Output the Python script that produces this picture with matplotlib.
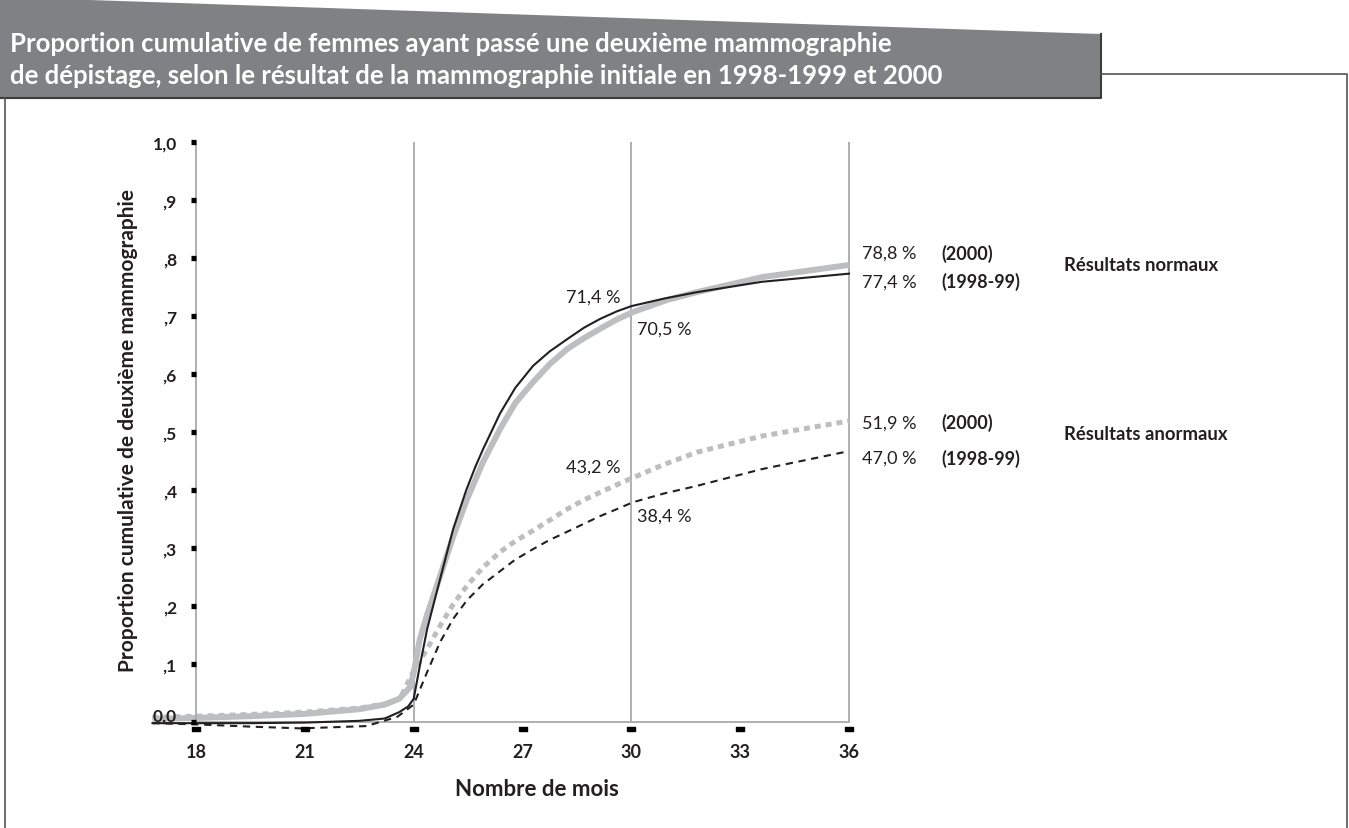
import numpy as np
import matplotlib
matplotlib.use('Agg')
import matplotlib.pyplot as plt
import matplotlib.transforms as mtransforms
from matplotlib.patches import Polygon
from matplotlib.lines import Line2D

# --- data (months, cumulative proportion) ---
norm_9899_x = [16.8, 18, 19.5, 21, 22.5, 23.2, 23.6, 23.85, 24.0, 24.17, 24.37, 24.73,
               25.09, 25.45, 25.7, 25.91, 26.38, 26.8, 27.29, 27.75, 28.23, 28.7, 29.14, 29.6,
               30.0, 30.9, 31.8, 33.6, 36.0]
norm_9899_y = [-0.002, -0.002, -0.002, -0.001, 0.002, 0.006, 0.017, 0.027, 0.040, 0.097, 0.160, 0.247,
               0.333, 0.400, 0.440, 0.470, 0.532, 0.576, 0.614, 0.639, 0.660, 0.680, 0.695, 0.708,
               0.717, 0.730, 0.741, 0.759, 0.773]

norm_2000_x = [16.8, 18, 19.5, 21, 22.5, 23.2, 23.6, 23.9, 24.0, 24.17, 24.37, 24.73,
               25.09, 25.47, 25.91, 26.38, 26.8, 27.29, 27.75, 28.23, 28.7, 29.14, 29.6, 30.05,
               31.0, 31.8, 33.6, 36.0]
norm_2000_y = [0.005, 0.007, 0.010, 0.014, 0.022, 0.030, 0.040, 0.060, 0.085, 0.143, 0.185, 0.252,
               0.320, 0.384, 0.448, 0.505, 0.550, 0.586, 0.617, 0.643, 0.662, 0.678, 0.694, 0.707,
               0.728, 0.741, 0.767, 0.788]

anor_2000_x = [16.8, 18, 19.5, 21, 22.5, 23.2, 23.62, 23.98, 24.37, 24.73, 25.09, 25.47,
               25.9, 26.38, 26.8, 27.29, 27.75, 28.23, 28.7, 29.14, 29.6, 30.0, 30.9, 31.8, 33.6, 36.0]
anor_2000_y = [0.008, 0.010, 0.013, 0.017, 0.024, 0.031, 0.040, 0.086, 0.126, 0.166, 0.203, 0.235,
               0.266, 0.293, 0.312, 0.330, 0.348, 0.367, 0.383, 0.396, 0.409, 0.420, 0.444, 0.465, 0.493, 0.519]

anor_9899_x = [16.8, 18, 19.5, 20.9, 22.7, 23.55, 24.0, 24.37, 24.73, 25.09, 25.47,
               25.9, 26.38, 26.8, 27.29, 27.75, 28.23, 28.7, 29.14, 29.6, 30.05, 30.9, 31.8, 33.6, 36.0]
anor_9899_y = [-0.002, -0.004, -0.008, -0.011, -0.007, 0.009, 0.030, 0.086, 0.138, 0.178, 0.210,
               0.237, 0.260, 0.280, 0.298, 0.314, 0.328, 0.342, 0.355, 0.367, 0.379, 0.394, 0.407, 0.436, 0.467]

x_ticks = [18, 21, 24, 27, 30, 33, 36]
y_ticks = [0.0, 0.1, 0.2, 0.3, 0.4, 0.5, 0.6, 0.7, 0.8, 0.9, 1.0]
y_ticklabels = ['0,0', ',1', ',2', ',3', ',4', ',5', ',6', ',7', ',8', ',9', '1,0']
grid_months = [24, 30, 36]

title_lines = ['Proportion cumulative de femmes ayant passé une deuxième mammographie',
               'de dépistage, selon le résultat de la mammographie initiale en 1998-1999 et 2000']

W, H = 1349, 829
plt.rcParams['font.family'] = ['Lato', 'DejaVu Sans']
TXT = '#231f20'
GREY = '#bcbec0'
AXC = '#a7a9ac'


def fx(px):
    return px / W


def fy(py):
    return 1 - py / H


fig = plt.figure(figsize=(W / 100, H / 100), dpi=100)

# header band and frame
band = Polygon([(fx(0), fy(0)), (fx(60), fy(0)), (fx(1100), fy(35)), (fx(1100), fy(98)), (fx(0), fy(98))],
               closed=True, transform=fig.transFigure, facecolor='#808184', edgecolor='none')
fig.add_artist(band)
fig.add_artist(Line2D([fx(0), fx(1101), fx(1101)], [fy(99), fy(99), fy(35)],
                      transform=fig.transFigure, color='#3c3c3c', lw=1.5))
fig.add_artist(Line2D([fx(5), fx(5)], [fy(99), fy(829)], transform=fig.transFigure, color='#555555', lw=1.2))
fig.add_artist(Line2D([fx(1101), fx(1347), fx(1347)], [fy(75), fy(75), fy(829)],
                      transform=fig.transFigure, color='#555555', lw=1.2))
fig.text(fx(10), fy(44), title_lines[0], color='white', fontsize=18.5, fontweight='bold', va='center')
fig.text(fx(10), fy(76), title_lines[1], color='white', fontsize=18.5, fontweight='bold', va='center')

# axes: x 16.75..36.1 -> px 150.7..852.6 ; y -0.03..1.005 -> px 740.4..140.1
ax = fig.add_axes([150.7 / W, (H - 740.4) / H, (852.6 - 150.7) / W, (740.4 - 140.1) / H])
ax.set_xlim(16.75, 36.1)
ax.set_ylim(-0.03, 1.005)
ax.patch.set_alpha(0)

for s in ['top', 'right']:
    ax.spines[s].set_visible(False)
ax.spines['left'].set_position(('data', 18))
ax.spines['left'].set_bounds(0, 1)
ax.spines['bottom'].set_position(('data', 0))
ax.spines['bottom'].set_bounds(18, 36)
for s in ['left', 'bottom']:
    ax.spines[s].set_color(AXC)
    ax.spines[s].set_linewidth(1.3)

ax.vlines(grid_months, 0, 1, color=AXC, lw=1.3, zorder=1)

ax.set_yticks(y_ticks)
ax.set_yticklabels(y_ticklabels)
ax.tick_params(axis='y', direction='out', length=3.8, width=3.8, color='black', pad=10,
               labelsize=12.5, labelcolor=TXT)
ax.set_xticks(x_ticks)
ax.set_xticklabels([str(t) for t in x_ticks])
ax.tick_params(axis='x', length=0, pad=15, labelsize=13, labelcolor=TXT)
for lab in ax.get_xticklabels() + ax.get_yticklabels():
    lab.set_fontweight('bold')
ax.yaxis.set_zorder(6)

# "0,0" sits a little higher in the original, on top of the curves
zero_lab = ax.yaxis.get_major_ticks()[0].label1
zero_lab.set_transform(zero_lab.get_transform() +
                       mtransforms.ScaledTranslation(0, 6 / 72, fig.dpi_scale_trans))

rect = [(-1, -0.5), (1, -0.5), (1, 0.5), (-1, 0.5), (-1, -0.5)]
ax.plot(x_ticks, [-0.012] * len(x_ticks), ls='none', marker=rect, markersize=6,
        color='black', clip_on=False, zorder=5)

# curves
ax.plot(norm_2000_x, norm_2000_y, color=GREY, lw=4.3, solid_capstyle='butt', zorder=2)
ax.plot(anor_2000_x, anor_2000_y, color=GREY, lw=3.6, ls=(0, (1.2, 1.0)), zorder=2)
ax.plot(norm_9899_x, norm_9899_y, color=TXT, lw=1.5, zorder=3)
ax.plot(anor_9899_x, anor_9899_y, color=TXT, lw=1.5, ls=(0, (3.5, 2.7)), zorder=3)

# value labels
vals = [('78,8 %', 36.37, 0.809, 'left'), ('77,4 %', 36.37, 0.760, 'left'),
        ('51,9 %', 36.37, 0.517, 'left'), ('47,0 %', 36.37, 0.455, 'left'),
        ('71,4 %', 29.7, 0.734, 'right'), ('70,5 %', 30.15, 0.679, 'left'),
        ('43,2 %', 29.7, 0.440, 'right'), ('38,4 %', 30.15, 0.355, 'left')]
for t, x, y, ha in vals:
    ax.text(x, y, t, ha=ha, va='center', fontsize=13, color=TXT, clip_on=False)
years = [('(2000)', 0.809), ('(1998-99)', 0.760), ('(2000)', 0.517), ('(1998-99)', 0.455)]
for t, y in years:
    ax.text(38.55, y, t, ha='left', va='center', fontsize=13, fontweight='bold', color=TXT, clip_on=False)
ax.text(41.92, 0.788, 'Résultats normaux', ha='left', va='center', fontsize=13.3,
        fontweight='bold', color=TXT, clip_on=False)
ax.text(41.92, 0.497, 'Résultats anormaux', ha='left', va='center', fontsize=13.3,
        fontweight='bold', color=TXT, clip_on=False)

fig.text(fx(128), fy(430), 'Proportion cumulative de deuxième mammographie', rotation=90,
         ha='center', va='center', fontsize=15, fontweight='bold', color=TXT)
fig.text(fx(537), fy(790), 'Nombre de mois', ha='center', va='center', fontsize=16,
         fontweight='bold', color=TXT)

fig.savefig('out.png', dpi=100)
